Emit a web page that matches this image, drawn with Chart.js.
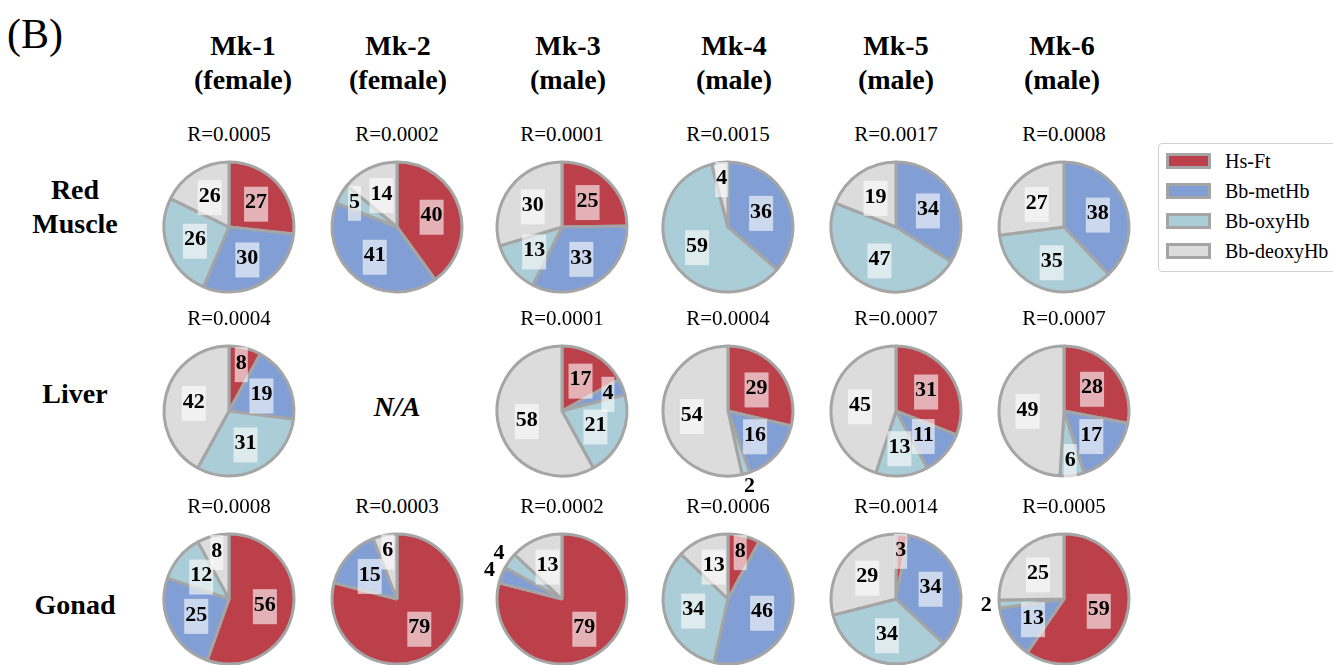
<!DOCTYPE html>
<html>
<head>
<meta charset="utf-8">
<script src="https://cdn.jsdelivr.net/npm/chart.js@4.4.1/dist/chart.umd.min.js"></script>
<style>
  body { margin: 0; width: 1333px; height: 665px; overflow: hidden; background: #fff; position: relative;
         font-family: 'Liberation Serif', 'Times New Roman', serif; color: #000; }
  .t { position: absolute; transform: translate(-50%, -50%); line-height: 1; white-space: nowrap; }
  .b { font-weight: bold; }
  canvas { position: absolute; }
  #legend { position: absolute; left: 1158px; top: 143px; width: 190px; height: 129px;
            border: 1px solid #d0d0d0; border-radius: 4px; box-sizing: border-box; }
  .lg { position: absolute; left: 7px; height: 20px; display: flex; align-items: center; font-size: 20px; }
  .sw { width: 39px; height: 10px; border: 3px solid #a5a5a5; margin-right: 14px; }
</style>
</head>
<body>
<div id="legend"></div>
<script>
  const donors = ['Mk-1', 'Mk-2', 'Mk-3', 'Mk-4', 'Mk-5', 'Mk-6'];
  const sexes = ['(female)', '(female)', '(male)', '(male)', '(male)', '(male)'];
  const tissues = ['Red Muscle', 'Liver', 'Gonad'];
  const components = ['Hs-Ft', 'Bb-metHb', 'Bb-oxyHb', 'Bb-deoxyHb'];

  // % per donor, order: Hs-Ft, Bb-metHb, Bb-oxyHb, Bb-deoxyHb
  const redMuscle = [[27, 30, 26, 18], [40, 41, 5, 14], [25, 33, 13, 30], [0, 36, 59, 4], [0, 34, 47, 19], [0, 38, 35, 27]];
  const liver = [[8, 19, 31, 42], null, [17, 4, 21, 58], [29, 16, 2, 54], [31, 11, 13, 45], [28, 17, 6, 49]];
  const gonad = [[56, 25, 12, 8], [79, 15, 0, 6], [79, 4, 4, 13], [8, 46, 34, 13], [3, 34, 34, 29], [59, 13, 2, 25]];

  const redMuscleR = ['0.0005', '0.0002', '0.0001', '0.0015', '0.0017', '0.0008'];
  const liverR = ['0.0004', null, '0.0001', '0.0004', '0.0007', '0.0007'];
  const gonadR = ['0.0008', '0.0003', '0.0002', '0.0006', '0.0014', '0.0005'];

  // the figure prints 26 on the Mk-1 red muscle deoxyHb slice, which is drawn smaller
  const printedFix = { '0-0-3': 26 };

  const colors = ['#bc4049', '#819fd4', '#aacdd7', '#dcdcdc'];
  const edge = '#a5a5a5';

  const colX = [229, 397, 562, 728, 896, 1064];
  const headX = [243, 398, 568, 734, 896, 1062];
  const rowY = [227, 411, 599];

  function addText(str, x, y, size, cls) {
    const d = document.createElement('div');
    d.className = 't ' + (cls || '');
    d.style.left = x + 'px';
    d.style.top = y + 'px';
    d.style.fontSize = size + 'px';
    d.textContent = str;
    document.body.appendChild(d);
    return d;
  }

  addText('(B)', 35, 34, 42);
  donors.forEach((d, i) => {
    addText(d, headX[i], 46, 28, 'b');
    addText(sexes[i], headX[i], 80, 28, 'b');
  });
  addText('Red', 75, 190, 28, 'b');
  addText('Muscle', 75, 224, 28, 'b');
  addText('Liver', 75, 394, 28, 'b');
  addText('Gonad', 75, 605, 28, 'b');

  const legend = document.getElementById('legend');
  components.forEach((c, i) => {
    const row = document.createElement('div');
    row.className = 'lg';
    row.style.top = (7 + i * 30) + 'px';
    row.innerHTML = '<div class="sw" style="background:' + colors[i] + '"></div><span>' + c + '</span>';
    legend.appendChild(row);
  });

  // value labels with a faded white box, small crowded slices go outside
  const sliceLabels = {
    id: 'sliceLabels',
    afterDatasetsDraw(chart) {
      const ctx = chart.ctx;
      const ds = chart.data.datasets[0];
      const vals = ds.data;
      const total = vals.reduce((a, b) => a + b, 0);
      const nz = vals.map((v, i) => i).filter(i => vals[i] > 0);
      const meta = chart.getDatasetMeta(0);
      ctx.save();
      ctx.font = 'bold 22px "Liberation Serif"';
      ctx.textAlign = 'center';
      ctx.textBaseline = 'middle';
      meta.data.forEach((arc, i) => {
        const v = vals[i];
        if (!v) return;
        const p = arc.getProps(['x', 'y', 'startAngle', 'endAngle', 'outerRadius'], true);
        const mid = (p.startAngle + p.endAngle) / 2;
        const pct = v / total * 100;
        const k = nz.indexOf(i);
        const prev = vals[nz[(k - 1 + nz.length) % nz.length]];
        const next = vals[nz[(k + 1) % nz.length]];
        const outside = pct <= 2.5 || (pct <= 5 && (prev <= 5 || next <= 5));
        const f = outside ? 1.2 : (pct < 10 ? 0.76 : 0.56);
        const lx = p.x + Math.cos(mid) * p.outerRadius * f;
        const ly = p.y + Math.sin(mid) * p.outerRadius * f;
        const text = String(ds.printed[i]);
        const w = ctx.measureText(text).width;
        if (!outside) {
          ctx.fillStyle = 'rgba(255,255,255,0.6)';
          ctx.fillRect(lx - w / 2 - 1, ly - 16, w + 2, 35);
        }
        ctx.fillStyle = '#000';
        ctx.fillText(text, lx, ly);
      });
      ctx.restore();
    }
  };

  const rows = [redMuscle, liver, gonad];
  const rowR = [redMuscleR, liverR, gonadR];
  const SIZE = 220;

  rows.forEach((row, r) => {
    row.forEach((vals, c) => {
      if (!vals) {
        addText('N/A', colX[c], rowY[r] - 4, 28, 'b').style.fontStyle = 'italic';
        return;
      }
      addText('R=' + rowR[r][c], colX[c], rowY[r] - 93, 21);
      const printed = vals.map((v, i) => printedFix[r + '-' + c + '-' + i] ?? v);
      const cv = document.createElement('canvas');
      cv.width = SIZE;
      cv.height = SIZE;
      cv.style.left = (colX[c] - SIZE / 2) + 'px';
      cv.style.top = (rowY[r] - SIZE / 2) + 'px';
      document.body.appendChild(cv);
      new Chart(cv.getContext('2d'), {
        type: 'pie',
        data: {
          labels: components,
          datasets: [{
            data: vals,
            printed,
            backgroundColor: colors,
            borderColor: edge,
            borderWidth: 3,
          }],
        },
        options: {
          responsive: false,
          animation: false,
          radius: 65,
          plugins: {
            legend: { display: false },
            tooltip: { enabled: false },
          },
        },
        plugins: [sliceLabels],
      });
    });
  });
</script>
</body>
</html>
